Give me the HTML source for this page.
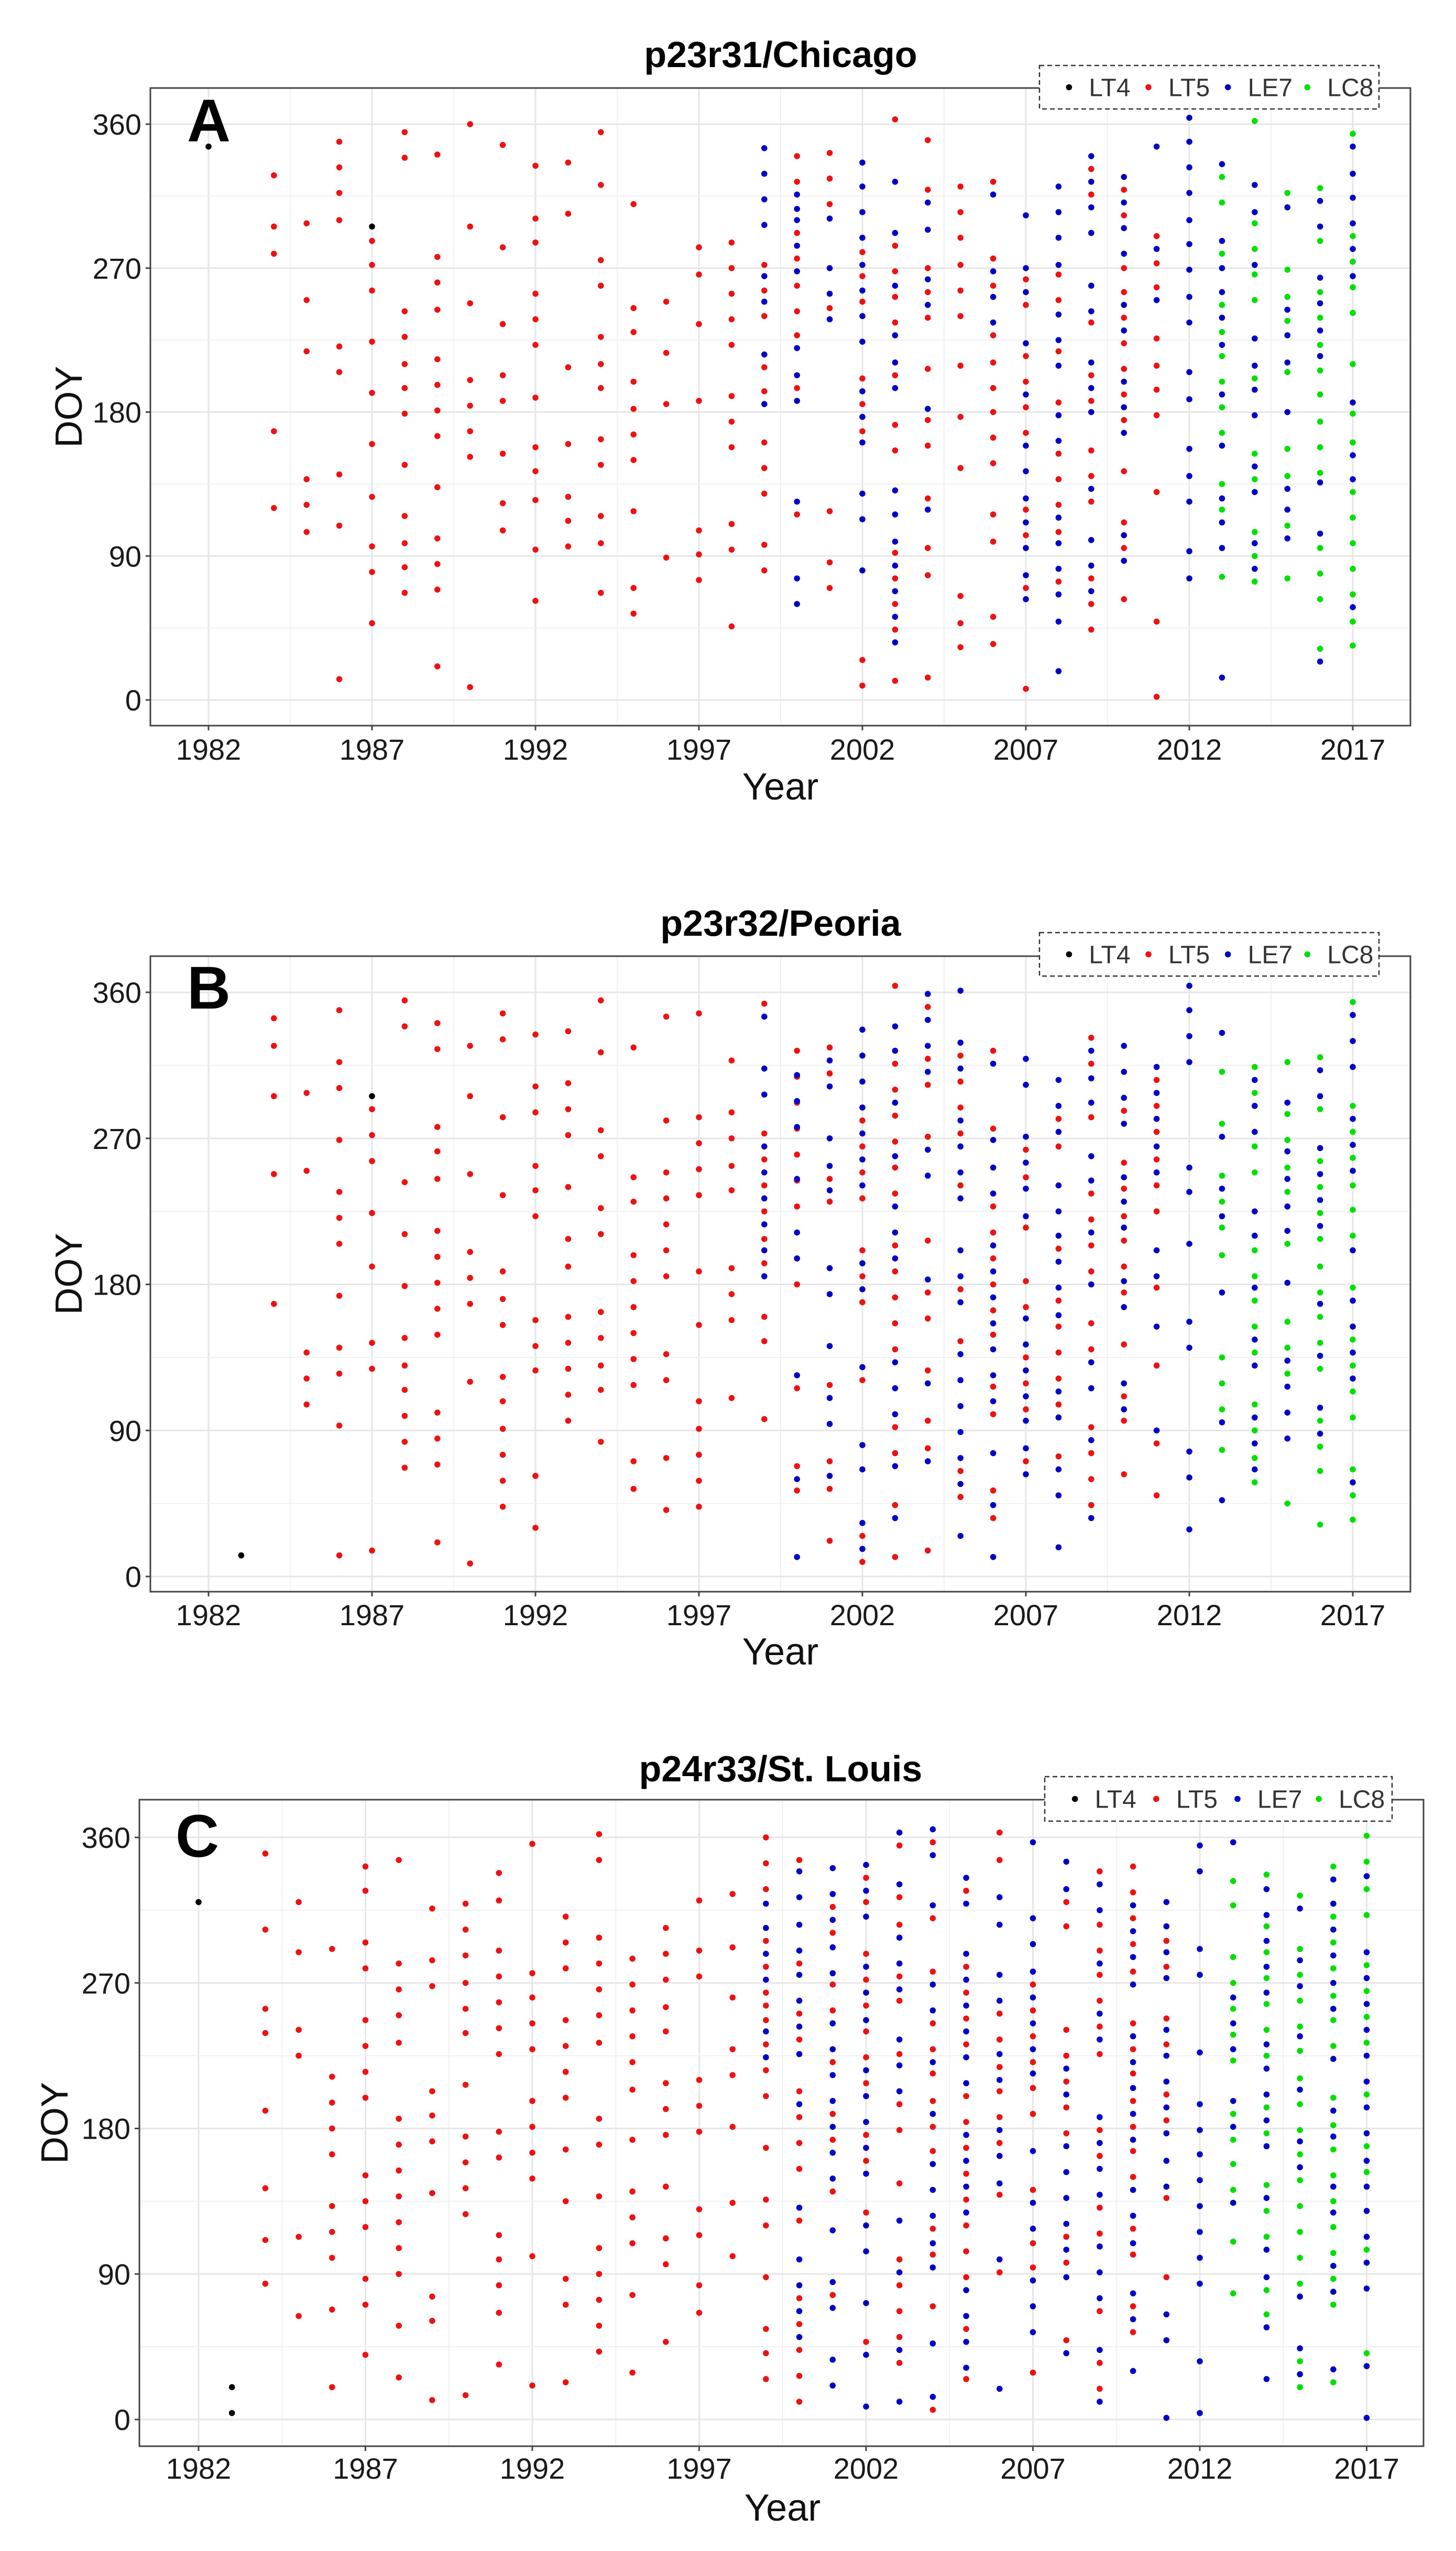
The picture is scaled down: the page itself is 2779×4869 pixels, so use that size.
<!DOCTYPE html>
<html><head><meta charset="utf-8"><style>
html,body{margin:0;padding:0;background:#fff}
svg{display:block}
text{font-family:"Liberation Sans",Arial,sans-serif}
</style></head><body>
<svg id="fig" xmlns="http://www.w3.org/2000/svg" width="2779" height="4869" viewBox="0 0 2779 4869">
<rect width="2779" height="4869" fill="#fff"/>
</svg>
<script>
// ---------- data ----------
const years = [1982,1987,1992,1997,2002,2007,2012,2017];
const doyTicks = [0,90,180,270,360];
const sensors = ["LT4","LT5","LE7","LC8"];
const panelTitles = ["p23r31/Chicago","p23r32/Peoria","p24r33/St. Louis"];
const panelLetters = ["A","B","C"];

const A_LT4 = [[1982,346],[1987,296]];
const A_LT5 = [
[1984,328,296,279,168,120],[1985,298,250,218,138,122,105],[1986,349,333,317,300,221,205,141,109,13],
[1987,287,272,256,224,192,160,127,96,80,48],[1988,355,339,243,227,210,195,179,147,115,98,83,67],
[1989,341,277,261,244,213,197,181,165,133,101,85,69,21],[1990,360,296,248,200,184,168,152,8],
[1991,347,283,235,203,187,154,123,106],[1992,334,301,286,254,238,222,189,158,143,125,94,62],
[1993,336,304,208,160,127,112,96],[1994,355,322,275,259,227,210,195,163,147,115,98,67],
[1995,310,245,230,199,182,166,150,118,70,54],[1996,249,217,185,89],[1997,283,266,235,187,106,91,75],
[1998,286,270,254,238,222,190,174,158,110,94,46],[1999,272,256,240,208,193,161,145,129,97,81],
[2000,340,324,292,276,259,243,228,195,116],[2001,342,326,310,245,118,86,70],
[2002,280,265,249,201,185,168,25,9],[2003,363,284,268,252,236,203,172,156,92,76,60,44,12],
[2004,350,319,270,255,239,207,175,159,126,95,78,14],[2005,321,305,289,272,256,240,209,177,145,65,48,33],
[2006,324,276,259,228,211,195,180,164,148,116,99,52,35],[2007,263,247,215,199,183,167,119,103,70,7],
[2008,266,250,218,186,154,138,122,105,74],[2009,332,316,236,203,187,156,140,124,76,60,44],
[2010,319,303,270,255,239,223,207,191,175,143,111,95,63],[2011,290,273,258,226,209,194,178,130,49,2]];
const A_LE7 = [
[1999,345,329,313,297,265,249,216,185],[2000,316,307,300,284,268,220,203,187,124,76,60],[2001,301,270,254,238],
[2002,336,321,305,289,272,256,240,224,193,177,161,129,113,81],[2003,324,292,259,228,211,195,131,116,99,84,68,52,36],
[2004,311,294,263,247,182,119],[2006,316,268,252,236],[2007,303,270,255,223,191,159,143,126,111,95,78,63],
[2008,321,305,289,272,241,225,209,178,162,114,98,82,66,49,18],[2009,340,324,308,292,259,243,211,195,180,132,100,84,68],
[2010,327,311,295,279,247,231,199,183,167,103,87],[2011,346,282,250],
[2012,364,349,333,317,300,285,269,252,236,205,188,157,140,124,93,76],[2013,335,287,270,255,239,222,191,159,126,111,95,14],
[2014,322,305,272,226,209,194,178,146,130,98,82],[2015,308,244,228,211,180,132,119,101],
[2016,312,296,264,248,231,215,136,104,24],[2017,346,329,314,298,282,265,186,153,138,58]];
const A_LC8 = [
[2013,327,311,279,247,230,215,199,183,167,135,119,77],[2014,362,298,282,266,250,201,154,138,105,90,74],
[2015,317,269,252,237,205,157,140,109,76],[2016,320,287,255,239,222,206,191,174,158,142,95,79,63,32],
[2017,354,290,274,258,242,210,179,161,130,114,98,82,66,49,34]];

const B_LT4 = [[1983,13],[1987,296]];
const B_LT5 = [
[1984,344,327,296,248,168],[1985,298,250,138,122,106],[1986,349,317,301,269,237,221,205,173,141,125,93,13],
[1987,288,272,256,224,191,144,128,16],[1988,355,339,243,211,179,147,130,115,99,83,67],
[1989,341,325,277,262,245,213,197,181,165,149,101,85,69,21],[1990,327,296,248,200,184,168,120,8],
[1991,347,331,283,235,188,171,155,123,108,91,75,59,43],[1992,334,302,286,253,238,222,158,142,127,62,30],
[1993,336,304,288,272,240,208,191,160,144,128,112,96],[1994,355,323,275,259,227,211,163,147,130,115,83],
[1995,326,246,231,198,182,166,150,134,118,71,54],[1996,345,281,249,233,217,201,185,137,121,73,41],
[1997,347,283,267,251,235,188,155,108,91,75,59,43],[1998,318,286,270,253,238,190,174,158,110],
[1999,353,273,257,241,225,208,193,160,145,97],[2000,324,308,292,276,260,244,228,196,180,116,68,53],
[2001,326,310,245,231,118,71,54,22],[2002,281,265,249,233,201,185,169,121,25,9],
[2003,364,316,300,284,268,252,236,204,188,172,156,140,92,76,44,12],[2004,351,319,303,271,207,175,159,127,96,79,16],
[2005,321,305,289,273,241,177,145,65,49],[2006,324,276,228,212,196,180,164,149,117,100,53,36],
[2007,263,246,215,182,166,135,119,103,71],[2008,282,265,202,170,154,138,122,106,74],
[2009,332,316,283,236,220,204,188,156,140,92,76,60,44],[2010,287,255,239,222,207,191,175,143,111,96,63],
[2011,306,290,274,257,241,225,178,130,82,50]];
const B_LE7 = [
[1999,345,313,297,265,249,233,217,201,185],[2000,309,293,277,245,212,196,124,60,12],
[2001,318,302,270,253,238,190,174,142,110,94,62],[2002,337,321,305,289,273,257,241,193,177,129,81,66,33,17],
[2003,339,324,292,259,228,212,196,132,116,100,68,36],[2004,359,343,327,311,263,247,183,119,71],
[2005,361,329,313,281,265,249,233,201,185,169,137,121,105,89,73,57,25],
[2006,316,269,252,236,204,188,172,156,140,124,108,76,44,12],[2007,319,303,271,255,239,222,159,143,127,111,96,79,63],
[2008,306,290,274,241,225,210,194,178,161,114,98,66,50,18],[2009,324,307,292,259,244,212,180,132,116,84,36],
[2010,327,311,295,279,246,231,215,182,166,119,103],[2011,314,298,282,265,249,201,185,154,90],
[2012,364,349,333,317,252,237,205,157,141,77,61,29],[2013,335,271,239,222,175,95,47],
[2014,306,290,274,225,210,178,146,130,98,82,66],[2015,292,262,245,228,213,181,133,117,101,85],
[2016,312,296,264,248,232,216,168,136,104,88],[2017,346,330,314,282,266,250,201,170,154,138,122,58]];
const B_LC8 = [
[2013,311,279,247,231,215,198,135,119,103,78],[2014,314,298,265,249,201,185,170,154,138,106,90,73,58],
[2015,317,285,269,252,237,205,157,141,125,45],[2016,320,288,256,240,224,208,191,175,160,144,128,96,80,65,32],
[2017,354,290,274,258,241,226,210,178,146,130,114,98,66,50,35]];

const C_LT4 = [[1982,320],[1983,20,4]];
const C_LT5 = [
[1984,350,303,254,239,191,143,111,84],[1985,320,289,241,225,113,64],[1986,291,212,196,180,164,132,116,100,68,20],
[1987,342,327,295,279,247,231,215,199,151,135,119,87,71,40],[1988,346,282,266,250,233,186,170,154,138,122,106,90,58,26],
[1989,316,284,268,203,188,172,140,76,61,12],[1990,319,303,287,270,254,239,207,175,159,143,127,15],
[1991,338,321,290,274,258,242,226,178,162,114,99,83,66,34],[1992,356,276,261,245,229,197,181,165,149,101,21],
[1993,311,295,279,247,231,215,199,167,135,87,71,23],[1994,362,346,298,282,266,250,233,186,170,138,106,90,74,58,42],
[1995,285,269,253,237,221,204,173,141,125,109,77,29],[1996,304,288,272,255,240,208,192,176,144,112,96,48],
[1997,321,290,274,210,194,178,130,114,83,66],[1998,325,292,261,229,213,181,134,101],
[1999,360,344,328,296,280,264,256,247,232,216,200,168,136,120,88,56,41,25],
[2000,346,282,251,235,203,187,171,155,123,75,59,43,27,11],[2001,317,301,269,253,221,189,173,141,77],
[2002,335,320,288,272,256,240,224,208,176,160,128,48],[2003,355,323,306,274,259,226,195,179,146,99,83,67,51,35],
[2004,357,310,277,245,229,214,197,181,166,118,102,70,6],[2005,327,280,264,248,232,200,184,168,152,136,120,104,88,56,25],
[2006,363,346,251,235,218,203,187,171,139,91],[2007,269,253,237,221,205,189,142,109,94,29],
[2008,320,305,241,225,209,193,177,113,97,49],[2009,339,306,290,275,259,243,226,179,163,131,115,67,35,19],
[2010,342,326,310,294,277,245,229,214,197,181,166,150,118,102,70,54],[2011,296,280,248,232,201,185,137,88]];
const C_LE7 = [
[1999,319,304,288,272,240,224],[2000,339,323,306,290,275,259,243,226,195,131,99,83,67,51],
[2001,341,325,309,292,276,245,229,213,197,181,165,149,117,85,69,37,21],
[2002,343,327,311,280,264,247,216,200,184,168,152,120,104,72,40,8],[2003,363,331,298,282,266,235,219,203,123,91,43,11],
[2004,365,349,318,269,253,221,189,158,142,126,109,94,47,14],[2005,335,319,288,272,256,240,224,208,176,160,144,128,80,64,48,32],
[2006,323,306,275,259,226,210,179,163,146,99,19],[2007,357,310,294,277,261,245,229,214,166,134,118,86,70,54],
[2008,345,328,217,201,169,153,137,121,105,88,41],[2009,331,315,282,251,235,187,171,155,139,107,91,75,43,11],
[2010,318,302,286,269,237,221,205,189,173,142,126,109,78,62,30],[2011,320,305,289,273,241,225,209,193,177,160,144,65,49,1],
[2012,355,339,291,275,227,195,179,164,148,132,116,100,84,36,4],[2013,357,261,245,229,197,181,134],
[2014,328,312,296,280,264,232,217,201,185,169,137,105,88,57,25],[2015,316,284,268,237,204,172,156,76,44,28],
[2016,334,319,303,287,270,254,223,191,175,144,128,95,79,31],[2017,336,289,273,257,241,225,209,193,177,160,144,129,113,97,81,33,1]];
const C_LC8 = [
[2013,333,318,286,270,254,238,222,189,173,158,142,110,78],[2014,337,305,289,273,257,241,225,193,177,145,129,113,80,65],
[2015,324,291,275,259,243,228,211,195,179,164,148,132,116,100,84,36,20],
[2016,342,311,295,279,262,247,231,199,182,167,151,135,119,103,87,71,23],
[2017,361,345,328,312,281,265,249,233,201,169,153,105,41]];

const panelData = [[A_LT4,A_LT5,A_LE7,A_LC8],[B_LT4,B_LT5,B_LE7,B_LC8],[C_LT4,C_LT5,C_LE7,C_LC8]];

// ---------- layout (not data) ----------
const colors = {LT4:"#000000",LT5:"#ee1111",LE7:"#0000c8",LC8:"#00e000"};
const layouts = [
 {L:287,R:2692,T:168,B:1385,y0:1336,y360:237,x1982:398,pxYr:62.4,titleY:128,legT:125,legB:208,legL:1984,legR:2632,letX:357,letY:270,xlabY:1450,yearY:1526,doyX:130},
 {L:287,R:2692,T:1825,B:3038,y0:3009,y360:1894,x1982:398,pxYr:62.4,titleY:1786,legT:1780,legB:1863,legL:1984,legR:2632,letX:357,letY:1925,xlabY:3102,yearY:3177,doyX:130},
 {L:266,R:2717,T:3435,B:4669,y0:4618,y360:3507,x1982:379,pxYr:63.7,titleY:3400,legT:3391,legB:3476,legL:1994,legR:2657,letX:335,letY:3544,xlabY:4731,yearY:4811,doyX:103}
];
const NS="http://www.w3.org/2000/svg";
const svg=document.getElementById("fig");
function mk(tag,attrs,parent){const e=document.createElementNS(NS,tag);for(const k in attrs)e.setAttribute(k,attrs[k]);(parent||svg).appendChild(e);return e;}

layouts.forEach((c,pi)=>{
  const xs=yr=>c.x1982+(yr-1982)*c.pxYr;
  const ys=d=>c.y0-(d/360)*(c.y0-c.y360);
  const g=mk("g",{});
  
  
  const grid=mk("g",{},g);
  
  
  for(let y=1982-2.5;y<=2020;y+=2.5){const x=xs(y);if(x<=c.L||x>=c.R)continue;
    const major=Math.abs((y-1982)%5)<0.01;
    mk("line",{x1:x,x2:x,y1:c.T,y2:c.B,stroke:major?"#e6e6e6":"#f0f0f0","stroke-width":major?3:2},grid);}
  for(let d=0;d<=405;d+=45){const y=ys(d);if(y<=c.T||y>=c.B)continue;
    const major=d%90===0;
    mk("line",{x1:c.L,x2:c.R,y1:y,y2:y,stroke:major?"#e6e6e6":"#f0f0f0","stroke-width":major?3:2},grid);}
  panelData[pi].forEach((series,si)=>{
    const sg=mk("g",{fill:colors[sensors[si]]},g);
    
    
    series.forEach(row=>{
      const yr=row[0];
      for(let k=1;k<row.length;k++){
        const p=mk("circle",{cx:xs(yr),cy:ys(row[k]),r:5.8},sg);
        
        
      }
    });
  });
  const bd=mk("rect",{x:c.L,y:c.T,width:c.R-c.L,height:c.B-c.T,fill:"none",stroke:"#444","stroke-width":3},g);
  
  
  years.forEach(yr=>{
    const x=xs(yr);
    mk("line",{x1:x,x2:x,y1:c.B,y2:c.B+9,stroke:"#444","stroke-width":3},g);
    const t=mk("text",{x:x,y:c.xlabY,"text-anchor":"middle","font-size":56,fill:"#1a1a1a"},g);
    t.textContent=yr;
    
    
  });
  doyTicks.forEach(d=>{
    const y=ys(d);
    mk("line",{x1:c.L-9,x2:c.L,y1:y,y2:y,stroke:"#444","stroke-width":3},g);
    const t=mk("text",{x:c.L-17,y:y+20,"text-anchor":"end","font-size":56,fill:"#1a1a1a"},g);
    t.textContent=d;
    
    
  });
  const xt=mk("text",{x:(c.L+c.R)/2+(pi===2?2:0),y:c.yearY,"text-anchor":"middle","font-size":72,fill:"#111"},g);
  xt.textContent="Year";
  
  
  const cy=(c.T+c.B)/2;
  const yt=mk("text",{x:c.doyX,y:cy,"text-anchor":"middle","font-size":72,fill:"#111",transform:`rotate(-90 ${c.doyX} ${cy}) translate(0 26)`},g);
  yt.textContent="DOY";
  
  
  const tt=mk("text",{x:1490,y:c.titleY,"text-anchor":"middle","font-size":70,"font-weight":"bold",fill:"#000"},g);
  tt.textContent=panelTitles[pi];
  
  
  const lt=mk("text",{x:c.letX,y:c.letY,"font-size":115,"font-weight":"bold",fill:"#000"},g);
  lt.textContent=panelLetters[pi];
  
  
  const lg=mk("g",{},g);
  
  
  mk("rect",{x:c.legL,y:c.legT,width:c.legR-c.legL,height:c.legB-c.legT,fill:"#fff",stroke:"#333","stroke-width":2.5,"stroke-dasharray":"9 6"},lg);
  const w=(c.legR-c.legL);
  const my=(c.legT+c.legB)/2;
  sensors.forEach((s,i)=>{
    const ex=c.legL+w*0.087+i*w*0.234;
    const eg=mk("g",{},lg);
    
    
    mk("circle",{cx:ex,cy:my,r:5.8,fill:colors[s]},eg);
    const tx=mk("text",{x:ex+38,y:my+17,"font-size":48,fill:"#333"},eg);
    tx.textContent=s;
  });
});
</script>
</body></html>
